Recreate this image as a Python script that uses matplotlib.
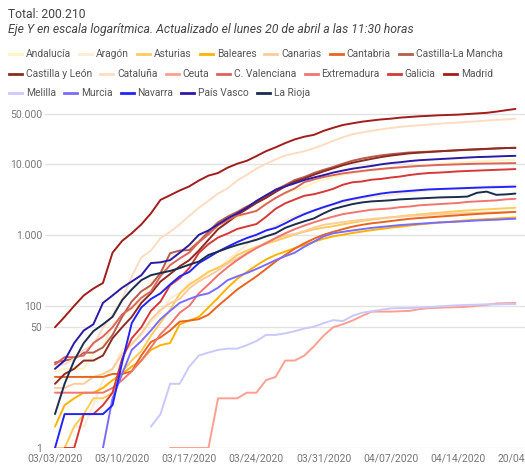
import numpy as np
import pandas as pd
import matplotlib
matplotlib.use('Agg')
import matplotlib.pyplot as plt
from matplotlib.lines import Line2D
from matplotlib.ticker import NullLocator

# fuente parecida a la del gráfico original
plt.rcParams['font.family'] = ['Roboto', 'DejaVu Sans']

# casos confirmados acumulados por comunidad, del 3 de marzo al 20 de abril
fechas = pd.date_range('2020-03-03', '2020-04-20', freq='D')

andalucia = [12, 13, 13, 13, 21, 27, 54, 71, 90, 115, 219, 269, 437, 554, 683, 839, 1008, 1287, 1515, 1725,
             1961, 2198, 2793, 3277, 3793, 4277, 4682, 5406, 5945, 6392, 6972, 7373, 7720, 8027, 8229, 8530,
             8867, 9136, 9422, 9669, 9938, 10128, 10374, 10562, 10767, 10927, 11091, 11232, 11424]
aragon = [1, 1, 2, 2, 4, 9, 13, 24, 29, 39, 60, 80, 127, 153, 211, 230, 300, 336, 433, 565,
          734, 948, 1137, 1338, 1592, 1808, 2034, 2181, 2378, 2634, 2826, 3070, 3240, 3435, 3518, 3615,
          3798, 3917, 4074, 4213, 4334, 4397, 4469, 4608, 4703, 4779, 4860, 4892, 4949]
asturias = [1, 1, 2, 3, 5, 5, 6, 12, 17, 23, 38, 58, 88, 148, 198, 243, 301, 344, 407, 518,
            598, 678, 745, 822, 911, 1012, 1103, 1190, 1260, 1317, 1400, 1480, 1560, 1630, 1700, 1760,
            1820, 1880, 1940, 1990, 2040, 2100, 2150, 2200, 2240, 2280, 2320, 2360, 2400]
baleares = [2, 4, 5, 6, 6, 7, 9, 11, 14, 17, 24, 28, 30, 55, 62, 70, 95, 130, 180, 240,
            300, 370, 450, 520, 580, 650, 720, 800, 880, 950, 1000, 1060, 1110, 1160, 1210, 1260,
            1300, 1350, 1400, 1440, 1480, 1520, 1560, 1600, 1630, 1660, 1690, 1720, 1750]
canarias = [7, 7, 8, 8, 10, 11, 13, 21, 29, 41, 64, 88, 109, 125, 177, 221, 262, 316, 394, 464,
            557, 657, 784, 884, 980, 1025, 1125, 1262, 1380, 1444, 1500, 1570, 1620, 1670, 1720, 1760,
            1800, 1840, 1880, 1910, 1940, 1970, 2000, 2020, 2040, 2060, 2080, 2090, 2100]
cantabria = [10, 10, 10, 10, 10, 10, 11, 11, 12, 20, 31, 36, 45, 60, 62, 65, 75, 100, 130, 170,
             210, 260, 330, 420, 520, 640, 760, 880, 1000, 1100, 1200, 1300, 1380, 1450, 1500, 1560,
             1620, 1680, 1720, 1760, 1800, 1840, 1880, 1920, 1960, 2000, 2030, 2060, 2100]
castilla_mancha = [16, 17, 18, 22, 22, 26, 39, 70, 115, 160, 195, 289, 550, 600, 610, 800, 1100, 1500, 1800, 2100,
                   2500, 2900, 3400, 4300, 5000, 5900, 6500, 7400, 8200, 9000, 10000, 11000, 11800, 12500, 13100, 13600,
                   14000, 14400, 14600, 14800, 15000, 15200, 15400, 15600, 15800, 16100, 16400, 16600, 16800]
castilla_leon = [8, 11, 13, 17, 17, 20, 35, 50, 70, 110, 150, 220, 280, 360, 440, 600, 850, 1200, 1500, 1900,
                 2300, 2800, 3300, 4000, 4800, 5600, 6200, 7000, 7800, 8600, 9500, 10300, 11000, 11700, 12400, 13000,
                 13500, 14000, 14300, 14600, 14900, 15200, 15500, 15800, 16000, 16200, 16400, 16600, 16700]
cataluna = [15, 15, 18, 24, 28, 49, 75, 124, 260, 480, 600, 900, 1100, 1400, 1850, 2400, 3000, 3800, 4500, 5800,
            7000, 8500, 10000, 11500, 13000, 14000, 15000, 16500, 18500, 21000, 23500, 26000, 27500, 29000, 30500, 31800,
            33000, 34000, 34800, 35500, 36500, 37300, 38000, 38800, 39500, 40500, 41300, 42000, 43000]
ceuta = [None, None, None, None, None, None, None, None, None, None, None, None, 1, 1, 1, 1, 1, 5, 5, 5,
         6, 6, 9, 10, 17, 17, 20, 27, 38, 50, 55, 62, 72, 83, 83, 83,
         84, 85, 90, 93, 94, 95, 96, 97, 100, 103, 108, 109, 110]
valenciana = [15, 19, 19, 20, 30, 37, 50, 76, 94, 130, 160, 262, 374, 464, 563, 786, 1012, 1363, 1604, 1855,
              2000, 2167, 2700, 3300, 3900, 4500, 5500, 6000, 6500, 6900, 7300, 7600, 7900, 8200, 8450, 8700,
              8900, 9100, 9300, 9450, 9600, 9700, 9800, 9900, 10000, 10050, 10100, 10150, 10200]
extremadura = [6, 6, 6, 6, 6, 6, 7, 9, 12, 17, 26, 40, 55, 80, 100, 150, 200, 270, 350, 440,
               540, 650, 760, 900, 1050, 1200, 1350, 1500, 1650, 1800, 1950, 2050, 2150, 2250, 2300, 2350,
               2450, 2500, 2600, 2650, 2700, 2750, 2800, 2900, 2950, 3000, 3050, 3150, 3210]
galicia = [None, 1, 1, 3, 3, 4, 6, 18, 35, 50, 85, 115, 195, 245, 341, 557, 739, 915, 1040, 1208,
           1310, 1415, 1790, 2322, 2772, 3139, 3544, 3723, 4039, 4432, 5051, 5474, 5625, 5955, 6110, 6388,
           6606, 6946, 7200, 7407, 7494, 7632, 7800, 7900, 8000, 8100, 8200, 8300, 8400]
madrid = [50, 70, 100, 140, 175, 210, 560, 820, 1050, 1400, 2000, 3100, 3600, 4200, 4800, 5800, 6800, 7400, 8800, 10000,
          11000, 12800, 15000, 17000, 19500, 22000, 24000, 25500, 29000, 32000, 35000, 37000, 39000, 40500, 42000, 43000,
          44500, 45500, 46500, 47200, 48000, 48500, 49000, 50000, 51000, 52000, 54000, 56500, 59000]
melilla = [None, None, None, None, None, None, None, None, None, None, 2, 3, 8, 8, 14, 20, 22, 24, 25, 25,
           28, 32, 39, 39, 41, 44, 48, 51, 57, 63, 61, 72, 80, 84, 88, 92,
           93, 93, 95, 96, 98, 100, 102, 103, 104, 105, 105, 106, 106]
murcia = [None, None, None, None, None, 1, 5, 11, 24, 32, 45, 65, 85, 110, 125, 140, 150, 180, 230, 260,
          290, 330, 380, 440, 500, 560, 680, 800, 950, 1050, 1100, 1150, 1200, 1250, 1290, 1330,
          1370, 1400, 1430, 1460, 1490, 1510, 1530, 1560, 1590, 1610, 1630, 1660, 1680]
navarra = [1, 3, 3, 3, 3, 3, 4, 16, 57, 95, 125, 150, 200, 260, 300, 400, 480, 580, 680, 790,
           900, 1000, 1150, 1250, 1450, 1700, 1950, 2200, 2450, 2700, 3000, 3200, 3400, 3600, 3800, 3950,
           4050, 4150, 4250, 4350, 4400, 4450, 4500, 4550, 4600, 4650, 4680, 4720, 4760]
pais_vasco = [13, 17, 30, 45, 55, 110, 140, 180, 220, 270, 400, 410, 440, 560, 720, 1000, 1150, 1400, 1700, 2000,
              2400, 3000, 3600, 4300, 4800, 5300, 5900, 6400, 6900, 7500, 8000, 8500, 8900, 9300, 9800, 10200,
              10500, 10900, 11200, 11400, 11600, 11800, 12000, 12200, 12400, 12500, 12650, 12800, 12900]
la_rioja = [3, 8, 17, 30, 44, 55, 70, 120, 170, 230, 270, 290, 310, 340, 380, 420, 520, 580, 650, 720,
            780, 850, 950, 1050, 1250, 1400, 1550, 1700, 2000, 2300, 2500, 2700, 2850, 2950, 3000, 3060,
            3150, 3200, 3250, 3300, 3350, 3380, 3400, 3450, 3900, 4050, 3650, 3700, 3800]

series = [
    ('Andalucía', andalucia, '#fff3c2'),
    ('Aragón', aragon, '#fbecd2'),
    ('Asturias', asturias, '#ffcb5a'),
    ('Baleares', baleares, '#ffb300'),
    ('Canarias', canarias, '#ffcc99'),
    ('Cantabria', cantabria, '#e8651f'),
    ('Castilla-La Mancha', castilla_mancha, '#b85b4d'),
    ('Castilla y León', castilla_leon, '#8c2b22'),
    ('Cataluña', cataluna, '#ffdcc2'),
    ('Ceuta', ceuta, '#ff9f91'),
    ('C. Valenciana', valenciana, '#d9655d'),
    ('Extremadura', extremadura, '#f07570'),
    ('Galicia', galicia, '#d63838'),
    ('Madrid', madrid, '#a11c1c'),
    ('Melilla', melilla, '#c9c9ff'),
    ('Murcia', murcia, '#7b6cff'),
    ('Navarra', navarra, '#2323ff'),
    ('País Vasco', pais_vasco, '#2b1aa8'),
    ('La Rioja', la_rioja, '#1c2c4c'),
]

xticks = ['2020-03-03', '2020-03-10', '2020-03-17', '2020-03-24', '2020-03-31', '2020-04-07', '2020-04-14', '2020-04-21']
xtick_labels = ['03/03/2020', '03/10/2020', '03/17/2020', '03/24/2020', '03/31/2020', '04/07/2020', '04/14/2020', '20/04/2020']
yticks = [1, 50, 100, 1000, 10000, 50000]
ytick_labels = ['1', '50', '100', '1.000', '10.000', '50.000']

W, H = 525, 467
fig = plt.figure(figsize=(W / 100, H / 100), dpi=100)
ax = fig.add_axes([45 / W, 1 - 448 / H, 480 / W, 343 / H])
renderer = fig.canvas.get_renderer()


def tam_para_ancho(texto, ancho_px, **kw):
    # tamaño de letra para que el texto ocupe ancho_px píxeles
    t = fig.text(0, 0, texto, fontsize=10, **kw)
    w = t.get_window_extent(renderer).width
    t.remove()
    return 10 * ancho_px / w


for nombre, valores, color in series:
    ax.plot(fechas, np.array(valores, dtype=float), color=color, lw=1.4,
            solid_joinstyle='round', solid_capstyle='round')

ax.set_yscale('log')
ax.set_ylim(1, 67000)
ax.set_xlim(pd.Timestamp('2020-03-03') - pd.Timedelta(hours=25), pd.Timestamp('2020-04-20') + pd.Timedelta(hours=15))
ax.set_yticks(yticks)
ax.set_yticklabels(ytick_labels)
ax.yaxis.set_minor_locator(NullLocator())
ax.set_xticks(pd.to_datetime(xticks))
ax.set_xticklabels(xtick_labels)
tam_ticks = tam_para_ancho('03/03/2020', 55)
ax.tick_params(axis='both', length=0, labelsize=tam_ticks, labelcolor='#777777')
ax.tick_params(axis='x', pad=4)
ax.tick_params(axis='y', pad=2)
ax.grid(axis='y', color='#e2e2e2', lw=1)
ax.set_axisbelow(True)
for s in ax.spines.values():
    s.set_visible(False)

# títulos
tam_titulo = tam_para_ancho('Total: 200.210', 77)
fig.text(8 / W, 1 - 15 / H, 'Total: 200.210', fontsize=tam_titulo, color='#444444', va='center')
subtitulo = 'Eje Y en escala logarítmica. Actualizado el lunes 20 de abril a las 11:30 horas'
tam_sub = tam_para_ancho(subtitulo, 406, style='italic')
fig.text(8 / W, 1 - 29 / H, subtitulo, fontsize=tam_sub, color='#444444', va='center', style='italic')

# leyenda en tres filas, como la original
tam_ley = tam_para_ancho('Andalucía', 45)
filas = [series[0:7], series[7:14], series[14:]]
for fila, ypix in zip(filas, [54, 74, 93]):
    x = 9
    yf = 1 - ypix / H
    for nombre, _, color in fila:
        fig.add_artist(Line2D([x / W, (x + 13) / W], [yf, yf], color=color, lw=2))
        t = fig.text((x + 17) / W, yf, nombre, fontsize=tam_ley, color='#555555', va='center')
        x = x + 17 + t.get_window_extent(renderer).width + 8

fig.savefig('out.png', dpi=100)
